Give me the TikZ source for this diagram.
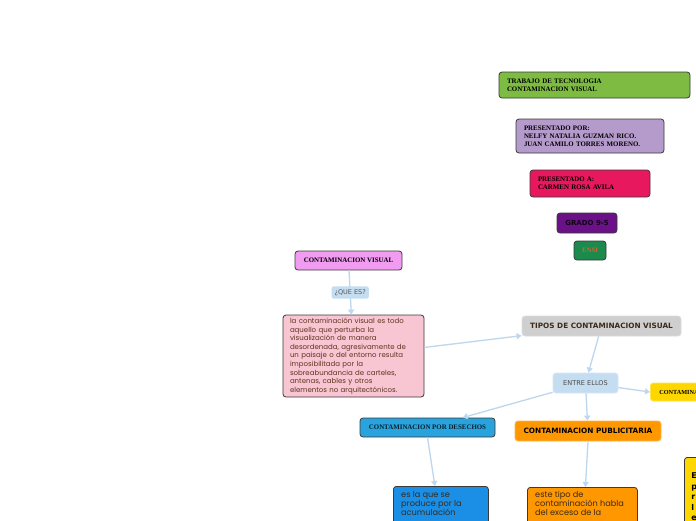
\documentclass[tikz,border=0pt]{standalone}
\usepackage{fontspec}
\setmainfont{Liberation Serif}
\newfontfamily\sansfont{DejaVu Sans}
\newfontfamily\roundfont{Poppins}
\usetikzlibrary{arrows.meta}
\definecolor{edgegray}{HTML}{3A3A3A}
\definecolor{linkblue}{HTML}{BDD7EE}
\definecolor{trabgreen}{HTML}{7DBB42}
\definecolor{lilac}{HTML}{B49BCB}
\definecolor{crimson}{HTML}{E8185F}
\definecolor{gradopurple}{HTML}{6B1187}
\definecolor{ensigreen}{HTML}{1B8A4C}
\definecolor{violetpink}{HTML}{F19CF0}
\definecolor{softpink}{HTML}{F8C5D2}
\definecolor{paleblue}{HTML}{C5DDF0}
\definecolor{lightgray}{HTML}{CFCFCF}
\definecolor{sunyellow}{HTML}{FFD700}
\definecolor{skyblue}{HTML}{29A3DD}
\definecolor{deepsky}{HTML}{1B8FE6}
\definecolor{puborange}{HTML}{FF9800}
\definecolor{browntext}{HTML}{5E3420}
\definecolor{darktext}{HTML}{3A2A1A}

\begin{document}
\begin{tikzpicture}[x=1pt,y=-1pt,
  box/.style={rectangle,draw=edgegray,line width=0.8pt,rounded corners=3pt,
    inner sep=0pt,align=left},
  softbox/.style={box,draw=#1!70!white},
  serifsm/.style={font=\bfseries\fontsize{6.9}{7.8}\selectfont},
  sanssm/.style={font=\sansfont\bfseries\fontsize{7.3}{8}\selectfont},
  bodytxt/.style={font=\roundfont\fontsize{7}{8.6}\selectfont,text=browntext},
  bigtxt/.style={font=\roundfont\fontsize{8.2}{9.2}\selectfont,text=darktext,
    anchor=north west,inner sep=0pt,align=left},
  conn/.style={-{Triangle[length=5pt,width=6pt]},draw=linkblue,line width=1.3pt}]

  \useasboundingbox (0,0) rectangle (696,520);
  \clip (0,0) rectangle (696,520);
  \fill[white] (0,0) rectangle (696,520);

  % title block
  \node[box,fill=trabgreen,serifsm,minimum height=26pt,inner xsep=8pt,text width=175pt]
    (trabajo) at (594.5,85) {TRABAJO DE TECNOLOGIA\\CONTAMINACION VISUAL};
  \node[box,fill=lilac,serifsm,minimum height=34pt,inner xsep=8pt,text width=132pt]
    (porr) at (590,136) {PRESENTADO POR:\\NELFY NATALIA GUZMAN RICO.\\JUAN CAMILO TORRES MORENO.};
  \node[box,fill=crimson,serifsm,minimum height=27pt,inner xsep=8pt,text width=104pt]
    (presa) at (590,183.5) {PRESENTADO A:\\CARMEN ROSA AVILA};
  \node[box,fill=gradopurple,align=center,minimum width=60pt,minimum height=20pt,
    font=\sansfont\bfseries\fontsize{7}{8}\selectfont,text=black!85!gradopurple]
    (grado) at (587,223) {GRADO 9-5};
  \node[box,fill=ensigreen,align=center,minimum width=32pt,minimum height=19pt,
    font=\bfseries\fontsize{6.8}{7}\selectfont,text=brown!80!red]
    (ensi) at (590,250.5) {ENSI};

  % main map
  \node[box,fill=violetpink,serifsm,align=center,minimum width=107pt,minimum height=19pt]
    (visual) at (348.5,260.5) {CONTAMINACION VISUAL};
  \node[box,fill=softpink,bodytxt,minimum height=82pt,inner xsep=7pt,text width=127pt]
    (queesbox) at (353.5,356) {la contaminación visual es todo\\aquello que perturba la\\visualización de manera\\desordenada, agresivamente de\\un paisaje o del entorno resulta\\imposibilitada por la\\sobreabundancia de carteles,\\antenas, cables y otros\\elementos no arquitectónicos.};
  \node[softbox=lightgray,fill=lightgray,sanssm,align=center,minimum width=159pt,
    minimum height=20pt,text=darktext] (tipos) at (601.5,326) {TIPOS DE CONTAMINACION VISUAL};
  \node[softbox=paleblue,fill=paleblue,align=center,minimum width=65pt,minimum height=20pt,
    font=\sansfont\fontsize{6.6}{8}\selectfont,text=black!70] (entre) at (585.5,383) {ENTRE ELLOS};
  \node[softbox=sunyellow,fill=sunyellow,anchor=west,minimum height=18pt,
    inner xsep=9pt,font=\bfseries\fontsize{6.2}{7}\selectfont] (otra) at (650,392) {CONTAMINACION};
  \node[box,fill=skyblue,serifsm,align=center,minimum width=135pt,minimum height=19pt,
    text=black!80!skyblue] (desechos) at (427.5,427.5) {CONTAMINACION POR DESECHOS};
  \node[softbox=puborange,fill=puborange,sanssm,align=center,minimum width=146pt,
    minimum height=20pt,text=black] (publi) at (588,431) {CONTAMINACION PUBLICITARIA};

  % lower boxes
  \node[box,fill=deepsky,anchor=north west,minimum width=95pt,minimum height=80pt]
    (desbox) at (393,486) {};
  \node[bigtxt] (destxt) at (401,491) {es la que se\\produce por la\\acumulación};
  \node[box,fill=puborange,anchor=north west,minimum width=110pt,minimum height=80pt]
    (pubbox) at (527,487) {};
  \node[bigtxt] (pubtxt) at (535,491) {este tipo de\\contaminación habla\\del exceso de la};
  \node[box,fill=sunyellow,anchor=north west,minimum width=80pt,minimum height=100pt,
    inner xsep=7pt,inner ysep=5pt,align=left,text width=66pt,
    font=\sansfont\bfseries\fontsize{8}{10.6}\selectfont] (otrabox) at (684,457)
    {E\\p\\r\\l\\e\\m\\e};

  % connectors
  \draw[conn] (visual) -- node[fill=paleblue,rounded corners=2pt,inner xsep=3pt,inner ysep=3pt,
    font=\sansfont\fontsize{6.5}{7}\selectfont,text=black!65] (quees) {¿QUE ES?} (queesbox);
  \draw[conn] (queesbox) -- (tipos);
  \draw[conn] (tipos) -- (entre);
  \draw[conn] (entre) -- (otra.west);
  \draw[conn] (entre) -- (desechos);
  \draw[conn] (entre) -- (publi);
  \draw[conn] (desechos.south) -- ([xshift=-6pt]desbox.north);
  \draw[conn] (publi.south) -- ([xshift=3pt]pubbox.north);
\end{tikzpicture}
\end{document}
